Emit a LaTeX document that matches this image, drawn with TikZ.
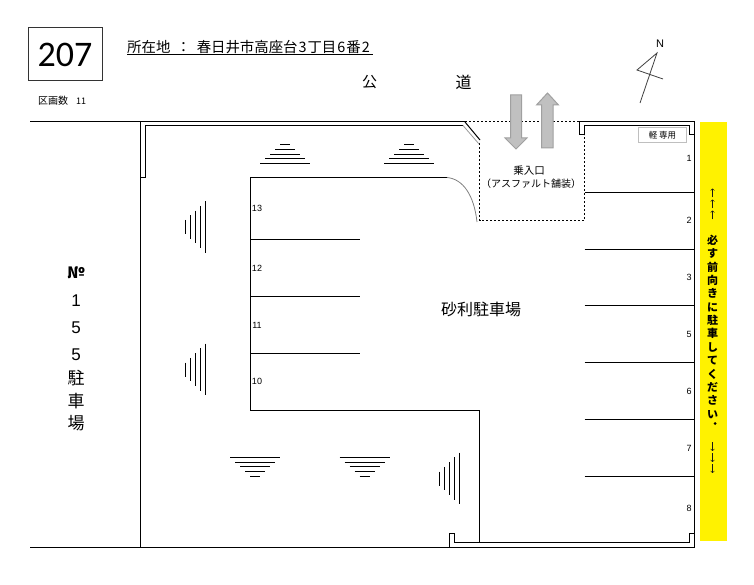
\documentclass[tikz,border=0pt]{standalone}
\usepackage{fontspec}
\setmainfont{Liberation Sans}
\newfontfamily\jp{Noto Sans CJK JP}
\newfontfamily\calib{Carlito}
\definecolor{arrowgray}{HTML}{C0C0C0}
\definecolor{arrowedge}{HTML}{A0A0A0}
\tikzset{
  wall/.style={line width=1pt},
  dots/.style={line width=0.8pt,dash pattern=on 2pt off 2pt},
  num/.style={inner sep=0pt,font=\fontsize{9}{9}\selectfont},
  jptext/.style={inner sep=0pt,font=\fontsize{#1}{#1}\selectfont\jp},
  gatearrow/.style={fill=arrowgray,draw=arrowedge,line width=1pt},
}
\begin{document}
\begin{tikzpicture}[x=1pt,y=-1pt,line join=miter,>=to]
  \useasboundingbox (0,0) rectangle (754,585);
  % header
  \node[draw=black!80,line width=1pt,minimum width=74pt,minimum height=53pt,inner sep=0pt,font=\fontsize{36}{36}\selectfont\calib] (lotno) at (65,54.5) {207};
  \node[jptext=14.4,anchor=west] (title) at (127,47) {所在地\hspace{6pt}：\hspace{6pt}春日井市高座台\kern1pt 3\kern1pt 丁目\kern1pt 6\kern1pt 番\kern1pt 2};
  \draw[wall] (127,54.5) -- (373,54.5);
  \node[jptext=10,anchor=west] (count) at (38,100.5) {区画数\hspace{8pt}{\fontsize{9}{9}\selectfont 11}};
  \node[jptext=15] (roadA) at (369.5,82) {公};
  \node[jptext=16] (roadB) at (463.5,82) {道};
  % north mark
  \node[num,font=\fontsize{11}{11}\selectfont] (north) at (660,44) {N};
  \draw[line width=0.8pt,black!75] (640,103) -- (657,53) -- (637,70) -- (663,79);
  % boundary
  \draw[wall] (30,122) -- (465,122);
  \draw[wall] (140.5,122) -- (140.5,547);
  \draw[wall] (463,125.5) -- (145.5,125.5) -- (145.5,177.5) -- (140.5,177.5);
  \draw[wall] (30,547) -- (694.5,547) -- (694.5,121.5) -- (579.5,121.5) -- (579.5,135) -- (584.5,135) -- (584.5,125.5) -- (689.5,125.5) -- (689.5,135) -- (694.5,135);
  \draw[wall] (449.5,547) -- (449.5,533) -- (454.5,533) -- (454.5,542.5) -- (689.5,542.5) -- (689.5,533) -- (694.5,533);
  % entrance
  \draw[dots] (465,121.5) -- (579.5,121.5);
  \draw[dots] (479.5,143) -- (479.5,220.5) -- (584.5,220.5) -- (584.5,135);
  \draw[wall] (465,122) -- (480,140);
  \draw[line width=0.8pt,black!40] (463,125.5) -- (479,144);
  \draw[gatearrow] (510.5,95) -- (521.5,95) -- (521.5,138) -- (527,138) -- (516,149) -- (505,138) -- (510.5,138) -- cycle;
  \draw[gatearrow] (541.5,148) -- (553,148) -- (553,105) -- (558.5,105) -- (547.5,93) -- (536.5,105) -- (541.5,105) -- cycle;
  \node[jptext=10.5] (gateA) at (529,171) {乗入口};
  \node[jptext=10] (gateB) at (531,184) {（アスファルト舗装）};
  % island
  \draw[wall] (250.5,177.5) -- (447,177.5);
  \draw[line width=0.8pt,black!50] (447,177.5) .. controls (463,179) and (474,195) .. (477,222);
  \draw[wall] (250.5,177.5) -- (250.5,410.5) -- (479.5,410.5) -- (479.5,542.5);
  \foreach \y in {239.5,296,353.5}
    \draw[wall] (250.5,\y) -- (360,\y);
  \foreach \y in {192.5,249,305,362,419,476}
    \draw[wall] (584.5,\y) -- (694.5,\y);
  % stall numbers
  \foreach \n/\y in {13/208,12/268,11/325,10/381}
    \node[num] (stall\n) at (257,\y) {\n};
  \foreach \n/\y/\k in {1/158/a,2/220/b,3/277/c,5/334/d,6/391/e,7/448/f,8/508.5/g}
    \node[num] (slot\k) at (689,\y) {\n};
  \node[draw=black!25,line width=1pt,minimum width=48pt,minimum height=15pt,inner sep=0pt,jptext=8.5] (kei) at (662.5,135.5) {軽 専用};
  \node[jptext=16] (gravel) at (481,309) {砂利駐車場};
  % ripple marks
  \foreach \cx in {285,409}
    \foreach \i in {0,...,4}
      \draw[wall] (\cx-5-5*\i,144.5+4.8*\i) -- (\cx+5+5*\i,144.5+4.8*\i);
  \foreach \cx in {255,364.5}
    \foreach \i in {0,...,4}
      \draw[wall] (\cx-5-5*\i,476.5-4.8*\i) -- (\cx+5+5*\i,476.5-4.8*\i);
  \foreach \cy in {227,369.5}
    \foreach \i in {0,...,4}
      \draw[wall] (185.3+5*\i,\cy-7-4.7*\i) -- (185.3+5*\i,\cy+7+4.7*\i);
  \foreach \i in {0,...,4}
    \draw[wall] (439.3+5*\i,478.5-7-4.7*\i) -- (439.3+5*\i,478.5+7+4.7*\i);
  % neighbour lot
  \node[jptext=16,font=\fontsize{16}{16}\selectfont\jp\bfseries] (lotsign) at (76,273) {№};
  \foreach \t/\y/\k in {1/301/a,5/328/b,5/355/c}
    \node[inner sep=0pt,font=\fontsize{17}{17}\selectfont] (lot\k) at (76,\y) {\t};
  \foreach \t/\y/\k in {駐/378/d,車/401/e,場/423/f}
    \node[jptext=17] (lot\k) at (76,\y) {\t};
  % notice
  \fill[yellow] (700,122) rectangle (727,541);
  \foreach \y in {193,204,215}
    \draw[->,line width=0.6pt,black!90] (712.5,\y+4.5) -- (712.5,\y-4.5);
  \foreach \y in {442,453,464}
    \draw[->,line width=0.6pt,black!90] (712.5,\y) -- (712.5,\y+9);
  \foreach \t [count=\i from 0] in {必,す,前,向,き,に,駐,車,し,て,く,だ,さ,い}
    \node[jptext=11,font=\fontsize{11}{11}\selectfont\jp\bfseries] (note\i) at (712.5,240+13.4*\i) {\t};
  \fill (715,423.5) circle (1.5pt);
\end{tikzpicture}
\end{document}
